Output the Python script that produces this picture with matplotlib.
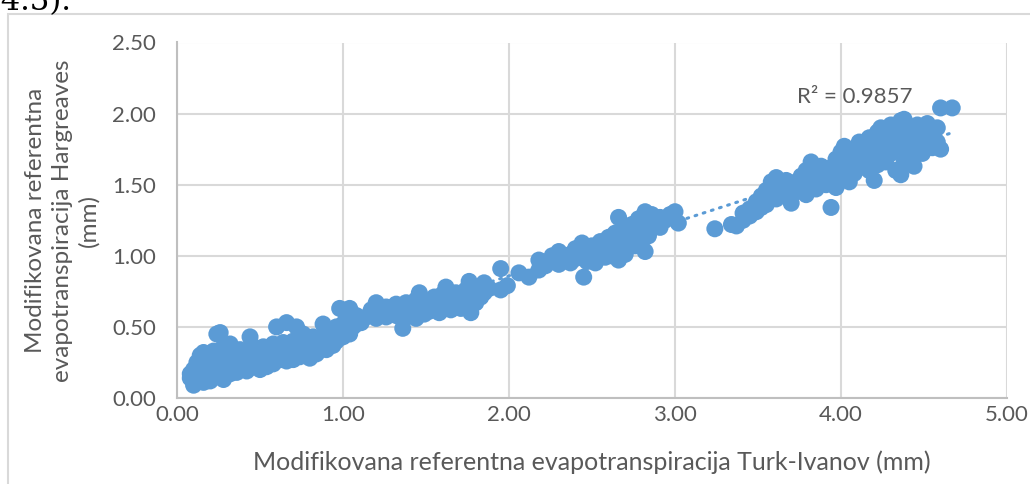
import matplotlib
matplotlib.use("Agg")
import matplotlib.pyplot as plt
from matplotlib.patches import Rectangle
import numpy as np

# Turk-Ivanov (x) vs Hargreaves (y) (mm)
# low range, roughly 0.1 - 1.1 mm
ti_low = [0.08, 0.08, 0.10, 0.10, 0.12, 0.12, 0.14, 0.14, 0.16, 0.16, 0.16, 0.18, 0.18, 0.20, 0.20, 0.22, 0.22, 0.24, 0.24, 0.24,
          0.26, 0.26, 0.28, 0.28, 0.28, 0.30, 0.30, 0.32, 0.32, 0.32, 0.34, 0.34, 0.36, 0.36, 0.38, 0.38, 0.40, 0.40, 0.42, 0.42,
          0.44, 0.44, 0.46, 0.46, 0.48, 0.48, 0.50, 0.50, 0.52, 0.52, 0.54, 0.54, 0.56, 0.56, 0.58, 0.58, 0.60, 0.60, 0.62, 0.62,
          0.64, 0.64, 0.66, 0.66, 0.68, 0.68, 0.70, 0.70, 0.72, 0.72, 0.74, 0.74, 0.76, 0.76, 0.78, 0.78, 0.80, 0.80, 0.82, 0.82,
          0.84, 0.84, 0.86, 0.86, 0.88, 0.88, 0.90, 0.90, 0.92, 0.92, 0.94, 0.94, 0.96, 0.96, 0.98, 0.98, 1.00, 1.00, 1.02, 1.02,
          1.04, 1.04, 1.06, 1.06, 1.08, 1.08, 1.11]
hg_low = [0.14, 0.17, 0.09, 0.20, 0.12, 0.25, 0.16, 0.30, 0.11, 0.22, 0.32, 0.14, 0.27, 0.19, 0.12, 0.24, 0.33, 0.15, 0.45, 0.29,
          0.20, 0.46, 0.13, 0.26, 0.36, 0.22, 0.32, 0.17, 0.38, 0.28, 0.24, 0.20, 0.30, 0.18, 0.26, 0.34, 0.21, 0.29, 0.33, 0.19,
          0.43, 0.25, 0.30, 0.22, 0.35, 0.27, 0.20, 0.31, 0.25, 0.36, 0.29, 0.22, 0.33, 0.26, 0.38, 0.24, 0.50, 0.30, 0.27, 0.35,
          0.39, 0.31, 0.53, 0.26, 0.34, 0.29, 0.40, 0.27, 0.50, 0.33, 0.37, 0.29, 0.45, 0.41, 0.32, 0.36, 0.28, 0.40, 0.34, 0.43,
          0.38, 0.31, 0.42, 0.35, 0.52, 0.39, 0.34, 0.45, 0.41, 0.48, 0.37, 0.44, 0.50, 0.40, 0.63, 0.46, 0.43, 0.52, 0.48, 0.57,
          0.63, 0.45, 0.50, 0.55, 0.58, 0.52, 0.53]

# 1.1 - 2.0 mm
ti_mid = [1.14, 1.17, 1.20, 1.20, 1.23, 1.26, 1.26, 1.29, 1.32, 1.32, 1.36, 1.36, 1.38, 1.38, 1.41, 1.41, 1.44, 1.44, 1.46, 1.46,
          1.49, 1.49, 1.52, 1.52, 1.55, 1.55, 1.58, 1.58, 1.60, 1.62, 1.62, 1.65, 1.65, 1.68, 1.68, 1.71, 1.71, 1.74, 1.74, 1.76,
          1.77, 1.77, 1.80, 1.80, 1.83, 1.85, 1.85, 1.88, 1.95, 1.95, 1.99]
hg_mid = [0.57, 0.62, 0.67, 0.56, 0.60, 0.64, 0.57, 0.61, 0.66, 0.58, 0.49, 0.62, 0.67, 0.57, 0.60, 0.64, 0.56, 0.69, 0.74, 0.62,
          0.65, 0.59, 0.68, 0.61, 0.64, 0.71, 0.60, 0.67, 0.73, 0.78, 0.65, 0.69, 0.62, 0.74, 0.66, 0.70, 0.63, 0.76, 0.68, 0.82,
          0.60, 0.72, 0.75, 0.67, 0.71, 0.81, 0.74, 0.77, 0.76, 0.91, 0.79]

# 2.0 - 3.4 mm
ti_upper = [2.06, 2.12, 2.18, 2.18, 2.22, 2.26, 2.26, 2.30, 2.30, 2.34, 2.37, 2.37, 2.40, 2.40, 2.44, 2.44, 2.45, 2.47, 2.47, 2.50,
            2.50, 2.52, 2.52, 2.55, 2.55, 2.58, 2.58, 2.60, 2.60, 2.62, 2.62, 2.64, 2.64, 2.66, 2.66, 2.66, 2.68, 2.68, 2.70, 2.70,
            2.70, 2.72, 2.72, 2.74, 2.74, 2.76, 2.76, 2.78, 2.78, 2.80, 2.80, 2.82, 2.82, 2.82, 2.84, 2.84, 2.86, 2.86, 2.88, 2.91,
            2.91, 2.94, 2.97, 3.00, 3.02, 3.24, 3.34, 3.37]
hg_upper = [0.88, 0.85, 0.97, 0.90, 0.93, 0.96, 1.00, 1.03, 0.94, 0.98, 1.01, 0.95, 1.05, 0.98, 1.09, 1.00, 0.85, 1.03, 0.96, 1.07,
            1.00, 0.95, 1.04, 1.10, 1.02, 1.06, 0.99, 1.13, 1.03, 1.08, 1.00, 1.16, 1.05, 1.27, 0.97, 1.10, 1.13, 1.04, 1.19, 1.08,
            1.01, 1.15, 1.06, 1.22, 1.10, 1.17, 1.07, 1.26, 1.13, 1.20, 1.10, 1.31, 1.03, 1.16, 1.24, 1.14, 1.29, 1.19, 1.22, 1.27,
            1.20, 1.25, 1.29, 1.31, 1.23, 1.19, 1.22, 1.21]

# 3.4 - 4.7 mm
ti_high = [3.41, 3.41, 3.45, 3.45, 3.49, 3.49, 3.52, 3.52, 3.55, 3.55, 3.55, 3.58, 3.58, 3.61, 3.61, 3.61, 3.64, 3.64, 3.67, 3.67,
           3.70, 3.70, 3.70, 3.73, 3.73, 3.76, 3.76, 3.79, 3.79, 3.79, 3.82, 3.82, 3.85, 3.85, 3.85, 3.88, 3.88, 3.91, 3.91, 3.94,
           3.94, 3.94, 3.97, 3.97, 3.97, 4.00, 4.00, 4.00, 4.02, 4.02, 4.02, 4.05, 4.05, 4.05, 4.08, 4.08, 4.08, 4.11, 4.11, 4.11,
           4.14, 4.14, 4.17, 4.17, 4.17, 4.20, 4.20, 4.20, 4.22, 4.22, 4.22, 4.24, 4.24, 4.24, 4.27, 4.27, 4.27, 4.30, 4.30, 4.30,
           4.33, 4.33, 4.33, 4.36, 4.36, 4.36, 4.38, 4.38, 4.38, 4.41, 4.41, 4.41, 4.44, 4.44, 4.44, 4.46, 4.46, 4.49, 4.49, 4.52,
           4.52, 4.55, 4.55, 4.58, 4.58, 4.60, 4.60, 4.67]
hg_high = [1.30, 1.25, 1.33, 1.28, 1.38, 1.31, 1.42, 1.34, 1.46, 1.36, 1.40, 1.52, 1.42, 1.55, 1.47, 1.40, 1.50, 1.44, 1.53, 1.46,
           1.48, 1.37, 1.42, 1.52, 1.45, 1.56, 1.48, 1.60, 1.50, 1.43, 1.66, 1.55, 1.60, 1.52, 1.47, 1.63, 1.56, 1.58, 1.50, 1.34,
           1.62, 1.54, 1.68, 1.58, 1.48, 1.73, 1.63, 1.55, 1.77, 1.67, 1.60, 1.70, 1.62, 1.52, 1.74, 1.66, 1.58, 1.80, 1.70, 1.62,
           1.76, 1.67, 1.83, 1.72, 1.60, 1.78, 1.68, 1.53, 1.87, 1.74, 1.64, 1.90, 1.80, 1.70, 1.84, 1.75, 1.66, 1.92, 1.81, 1.72,
           1.88, 1.78, 1.60, 1.95, 1.84, 1.57, 1.96, 1.75, 1.66, 1.90, 1.80, 1.69, 1.86, 1.76, 1.63, 1.92, 1.82, 1.88, 1.72, 1.93,
           1.80, 1.86, 1.76, 1.90, 1.80, 2.04, 1.75, 2.04]

x_ticks = [0, 1, 2, 3, 4, 5]
y_ticks = [0, 0.5, 1.0, 1.5, 2.0, 2.5]
r2_label = "R² = 0.9857"

blue = "#5B9BD5"
txt = "#595959"
grid_c = "#d9d9d9"
plt.rcParams["font.family"] = ["Lato", "DejaVu Sans"]

fig = plt.figure(figsize=(10.3, 4.84), dpi=100)
ax = fig.add_axes([177/1030, 1 - 398/484, (1007 - 177)/1030, (398 - 42.5)/484])

x = np.array(ti_low + ti_mid + ti_upper + ti_high)
y = np.array(hg_low + hg_mid + hg_upper + hg_high)
ax.scatter(x, y, s=150, color=blue, edgecolors="none", zorder=3)

# linear trendline
k, b = np.polyfit(x, y, 1)
xs = np.array([x.min(), x.max()])
ax.plot(xs, k*xs + b, color=blue, lw=2.2, ls=(0, (0.6, 2.2)), dash_capstyle="round", zorder=2)

ax.text(4.08, 2.12, r2_label, fontsize=16, color=txt, ha="center", va="center")

ax.set_xlim(0, 5)
ax.set_ylim(0, 2.5)
ax.set_xticks(x_ticks)
ax.set_yticks(y_ticks)
ax.set_xticklabels([f"{v:.2f}" for v in x_ticks])
ax.set_yticklabels([f"{v:.2f}" for v in y_ticks])
ax.tick_params(length=0, labelsize=16, labelcolor=txt)
ax.tick_params(axis="y", pad=15)
ax.tick_params(axis="x", pad=5)
ax.grid(True, color=grid_c, lw=1.5, zorder=0)
ax.set_axisbelow(True)
for side in ["top", "right"]:
    ax.spines[side].set_visible(False)
for side in ["left", "bottom"]:
    ax.spines[side].set_color("#bfbfbf")
    ax.spines[side].set_linewidth(1.5)

ax.set_xlabel("Modifikovana referentna evapotranspiracija Turk-Ivanov (mm)",
              fontsize=18, color=txt, labelpad=18)
ax.set_ylabel("Modifikovana referentna\nevapotranspiracija Hargreaves\n(mm)",
              fontsize=17.5, color=txt, labelpad=9, linespacing=1.32)

# chart frame and cropped caption text from the document
fig.patches.append(Rectangle((8/1030, -0.1), 1.2, 1 - 14/484 + 0.1, transform=fig.transFigure,
                             fill=False, edgecolor=grid_c, lw=1.5))
fig.text(-10/1030, 1 - 10/484, "(4.3).", fontsize=22, family="DejaVu Serif", color="black",
         ha="left", va="baseline")

fig.savefig("out.png", dpi=100)
